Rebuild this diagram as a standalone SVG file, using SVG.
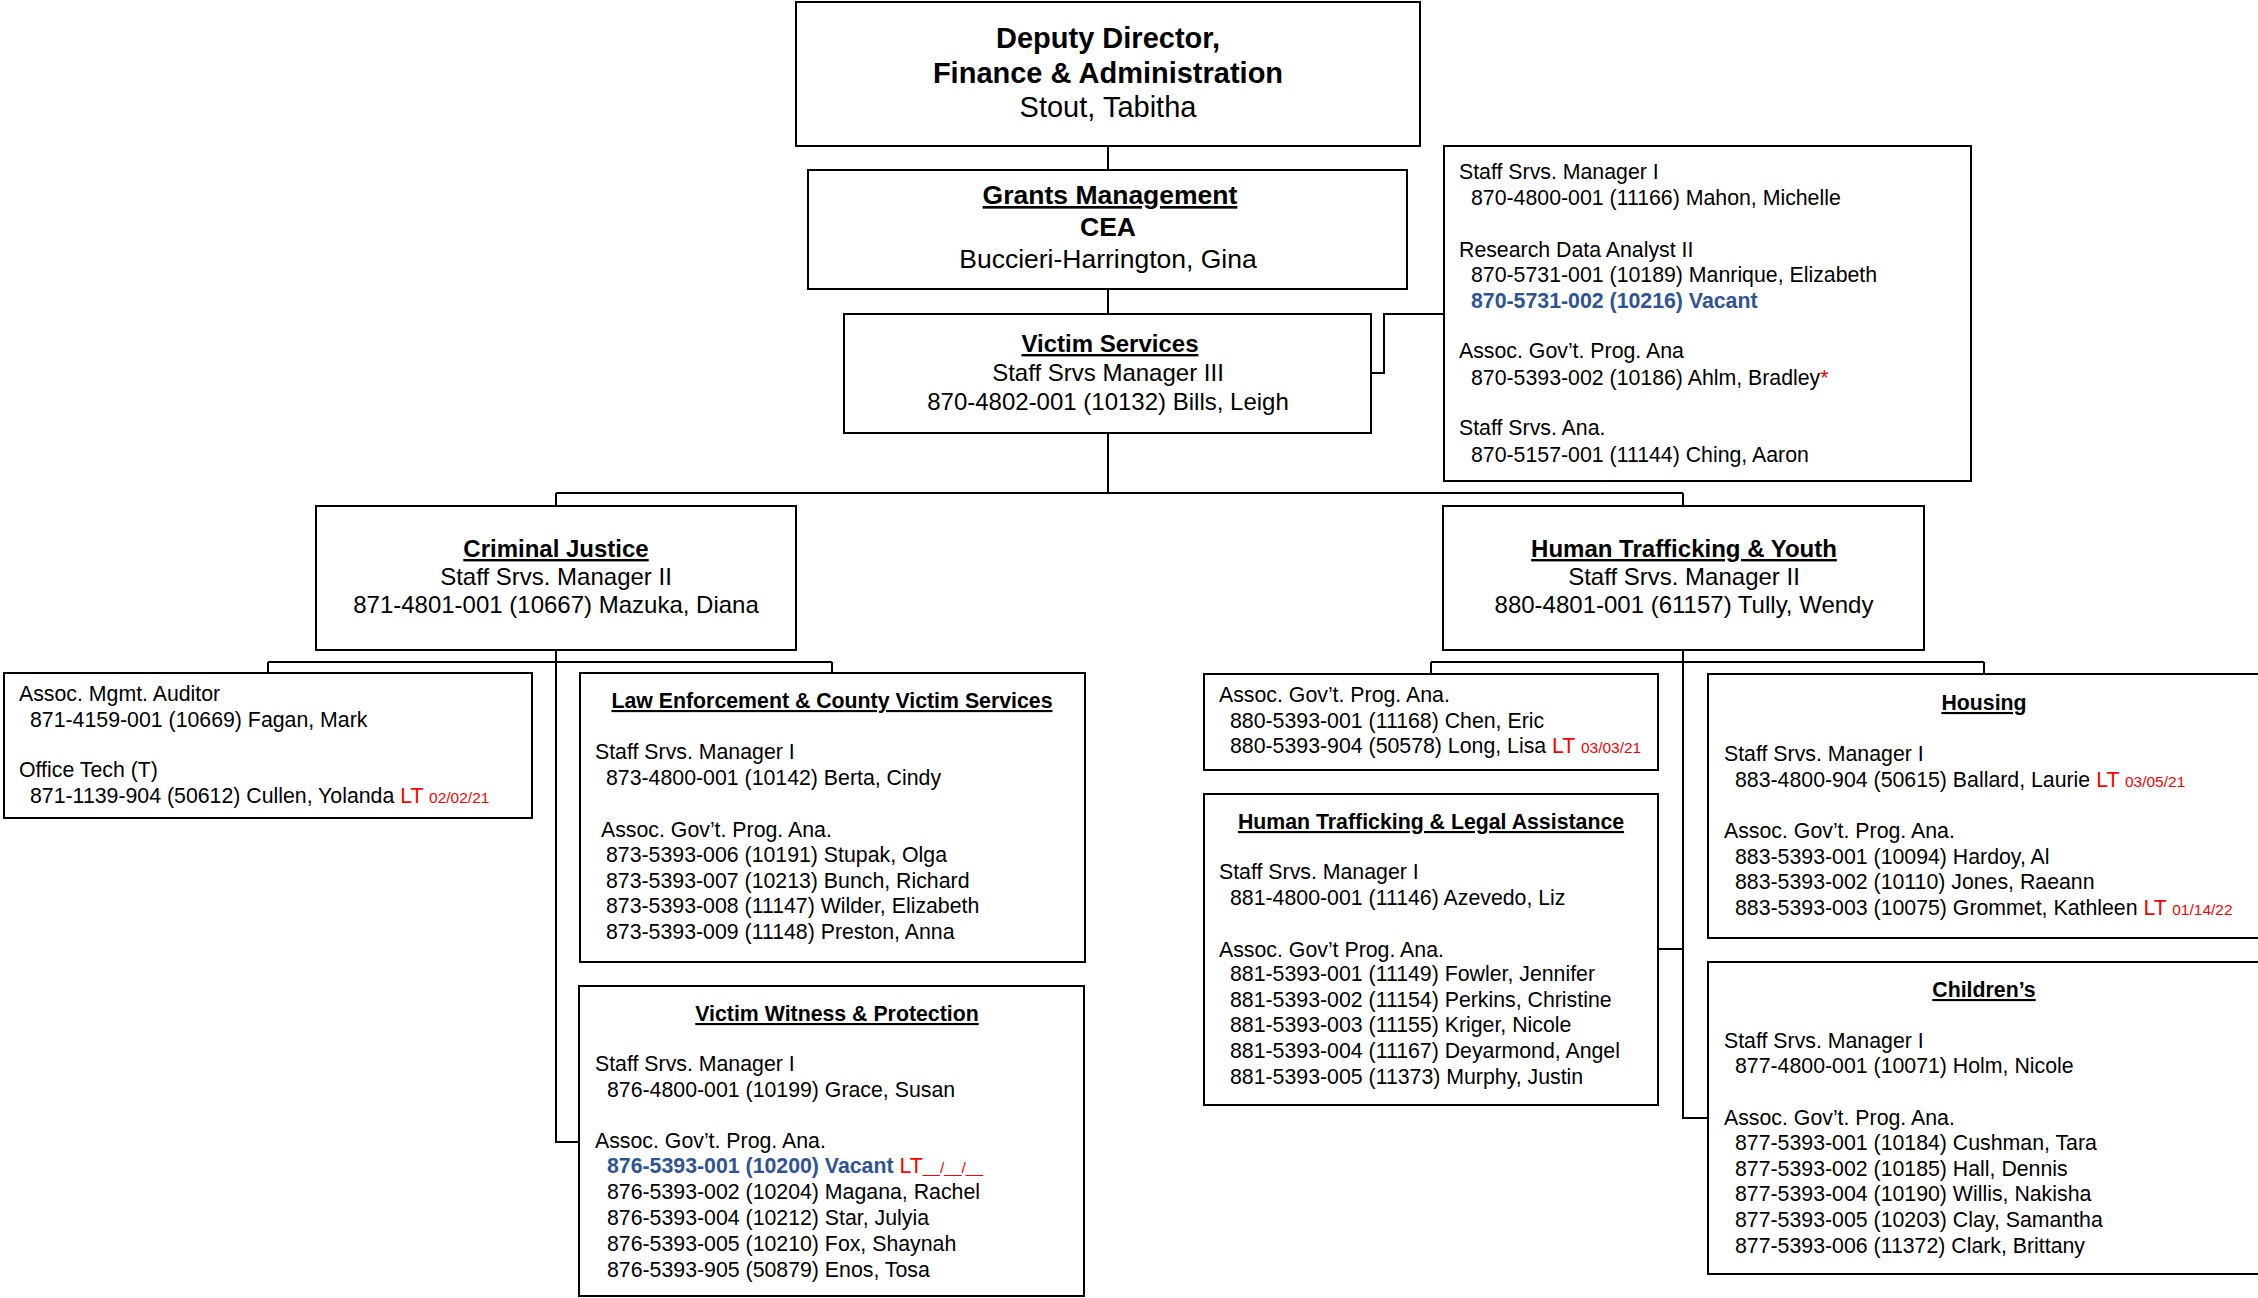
<svg xmlns="http://www.w3.org/2000/svg" width="2258" height="1298" viewBox="0 0 2258 1298">
<style>
.box{fill:#fff;stroke:#000;stroke-width:2}
.conn{fill:none;stroke:#000;stroke-width:2}
text{font-family:"Liberation Sans",Arial,sans-serif;font-size:21.3px;fill:#000}
.c{text-anchor:middle}
.b{font-weight:bold}
.u{text-decoration:underline}
.h24{font-size:24px}
.h26{font-size:26.5px}
.h28{font-size:29px}
.blue{fill:#2F5496;font-weight:bold}
.red{fill:#FF0000}
.sm{font-size:15.5px}
</style>
<rect width="2258" height="1298" fill="#fff"/>
<g id="connectors">
<path class="conn" d="M1108,146 V170 M1108,289 V314 M1371,373 H1384 V314 H1444 M1108,433 V493 M556,493 H1683 M556,493 V506 M1683,493 V506 M556,650 V1142 H579 M268,662 H832 M268,662 V673 M832,662 V673 M1683,650 V1118 H1708 M1431,662 H1984 M1431,662 V674 M1984,662 V674 M1658,949 H1683"/>
</g>
<g id="deputy">
<rect class="box" x="796" y="2" width="624" height="144"/>
<text class="c b h28" x="1108" y="48">Deputy Director,</text>
<text class="c b h28" x="1108" y="83">Finance &amp; Administration</text>
<text class="c h28" x="1108" y="117">Stout, Tabitha</text>
</g>
<g id="grants">
<rect class="box" x="808" y="170" width="599" height="119"/>
<text class="c b u h26" x="1110" y="204">Grants Management</text>
<text class="c b h26" x="1108" y="236">CEA</text>
<text class="c h26" x="1108" y="268">Buccieri-Harrington, Gina</text>
</g>
<g id="victim-services">
<rect class="box" x="844" y="314" width="527" height="119"/>
<text class="c b u h24" x="1110" y="352">Victim Services</text>
<text class="c h24" x="1108" y="381">Staff Srvs Manager III</text>
<text class="c h24" x="1108" y="410">870-4802-001 (10132) Bills, Leigh</text>
</g>
<g id="vs-staff">
<rect class="box" x="1444" y="146" width="527" height="335"/>
<text x="1459" y="179">Staff Srvs. Manager I</text>
<text x="1471" y="205">870-4800-001 (11166) Mahon, Michelle</text>
<text x="1459" y="257">Research Data Analyst II</text>
<text x="1471" y="282">870-5731-001 (10189) Manrique, Elizabeth</text>
<text class="blue" x="1471" y="308">870-5731-002 (10216) Vacant</text>
<text x="1459" y="358">Assoc. Gov’t. Prog. Ana</text>
<text x="1471" y="385">870-5393-002 (10186) Ahlm, Bradley<tspan class="red">*</tspan></text>
<text x="1459" y="435">Staff Srvs. Ana.</text>
<text x="1471" y="462">870-5157-001 (11144) Ching, Aaron</text>
</g>
<g id="criminal-justice">
<rect class="box" x="316" y="506" width="480" height="144"/>
<text class="c b u h24" x="556" y="557">Criminal Justice</text>
<text class="c h24" x="556" y="585">Staff Srvs. Manager II</text>
<text class="c h24" x="556" y="613">871-4801-001 (10667) Mazuka, Diana</text>
</g>
<g id="human-trafficking-youth">
<rect class="box" x="1443" y="506" width="481" height="144"/>
<text class="c b u h24" x="1684" y="557">Human Trafficking &amp; Youth</text>
<text class="c h24" x="1684" y="585">Staff Srvs. Manager II</text>
<text class="c h24" x="1684" y="613">880-4801-001 (61157) Tully, Wendy</text>
</g>
<g id="cj-staff">
<rect class="box" x="4" y="673" width="528" height="145"/>
<text x="19" y="701">Assoc. Mgmt. Auditor</text>
<text x="30" y="727">871-4159-001 (10669) Fagan, Mark</text>
<text x="19" y="777">Office Tech (T)</text>
<text x="30" y="803">871-1139-904 (50612) Cullen, Yolanda <tspan class="red">LT </tspan><tspan class="red sm">02/02/21</tspan></text>
</g>
<g id="law-enforcement">
<rect class="box" x="580" y="673" width="505" height="289"/>
<text class="c b u" x="832" y="708">Law Enforcement &amp; County Victim Services</text>
<text x="595" y="759">Staff Srvs. Manager I</text>
<text x="606" y="785">873-4800-001 (10142) Berta, Cindy</text>
<text x="601" y="837">Assoc. Gov’t. Prog. Ana.</text>
<text x="606" y="862">873-5393-006 (10191) Stupak, Olga</text>
<text x="606" y="888">873-5393-007 (10213) Bunch, Richard</text>
<text x="606" y="913">873-5393-008 (11147) Wilder, Elizabeth</text>
<text x="606" y="939">873-5393-009 (11148) Preston, Anna</text>
</g>
<g id="victim-witness">
<rect class="box" x="579" y="986" width="505" height="310"/>
<text class="c b u" x="837" y="1021">Victim Witness &amp; Protection</text>
<text x="595" y="1071">Staff Srvs. Manager I</text>
<text x="607" y="1097">876-4800-001 (10199) Grace, Susan</text>
<text x="595" y="1148">Assoc. Gov’t. Prog. Ana.</text>
<text x="607" y="1173"><tspan class="blue">876-5393-001 (10200) Vacant</tspan> <tspan class="red">LT</tspan><tspan class="red sm">__/__/__</tspan></text>
<text x="607" y="1199">876-5393-002 (10204) Magana, Rachel</text>
<text x="607" y="1225">876-5393-004 (10212) Star, Julyia</text>
<text x="607" y="1251">876-5393-005 (10210) Fox, Shaynah</text>
<text x="607" y="1277">876-5393-905 (50879) Enos, Tosa</text>
</g>
<g id="hty-staff">
<rect class="box" x="1204" y="674" width="454" height="96"/>
<text x="1219" y="702">Assoc. Gov’t. Prog. Ana.</text>
<text x="1230" y="728">880-5393-001 (11168) Chen, Eric</text>
<text x="1230" y="753">880-5393-904 (50578) Long, Lisa <tspan class="red">LT </tspan><tspan class="red sm">03/03/21</tspan></text>
</g>
<g id="legal-assistance">
<rect class="box" x="1204" y="794" width="454" height="311"/>
<text class="c b u" x="1431" y="829">Human Trafficking &amp; Legal Assistance</text>
<text x="1219" y="879">Staff Srvs. Manager I</text>
<text x="1230" y="905">881-4800-001 (11146) Azevedo, Liz</text>
<text x="1219" y="957">Assoc. Gov’t Prog. Ana.</text>
<text x="1230" y="981">881-5393-001 (11149) Fowler, Jennifer</text>
<text x="1230" y="1007">881-5393-002 (11154) Perkins, Christine</text>
<text x="1230" y="1032">881-5393-003 (11155) Kriger, Nicole</text>
<text x="1230" y="1058">881-5393-004 (11167) Deyarmond, Angel</text>
<text x="1230" y="1084">881-5393-005 (11373) Murphy, Justin</text>
</g>
<g id="housing">
<rect class="box" x="1708" y="674" width="552" height="264"/>
<text class="c b u" x="1984" y="710">Housing</text>
<text x="1724" y="761">Staff Srvs. Manager I</text>
<text x="1735" y="787">883-4800-904 (50615) Ballard, Laurie <tspan class="red">LT </tspan><tspan class="red sm">03/05/21</tspan></text>
<text x="1724" y="838">Assoc. Gov’t. Prog. Ana.</text>
<text x="1735" y="864">883-5393-001 (10094) Hardoy, Al</text>
<text x="1735" y="889">883-5393-002 (10110) Jones, Raeann</text>
<text x="1735" y="915">883-5393-003 (10075) Grommet, Kathleen <tspan class="red">LT </tspan><tspan class="red sm">01/14/22</tspan></text>
</g>
<g id="childrens">
<rect class="box" x="1708" y="962" width="552" height="312"/>
<text class="c b u" x="1984" y="997">Children’s</text>
<text x="1724" y="1048">Staff Srvs. Manager I</text>
<text x="1735" y="1073">877-4800-001 (10071) Holm, Nicole</text>
<text x="1724" y="1125">Assoc. Gov’t. Prog. Ana.</text>
<text x="1735" y="1150">877-5393-001 (10184) Cushman, Tara</text>
<text x="1735" y="1176">877-5393-002 (10185) Hall, Dennis</text>
<text x="1735" y="1201">877-5393-004 (10190) Willis, Nakisha</text>
<text x="1735" y="1227">877-5393-005 (10203) Clay, Samantha</text>
<text x="1735" y="1253">877-5393-006 (11372) Clark, Brittany</text>
</g>
</svg>
